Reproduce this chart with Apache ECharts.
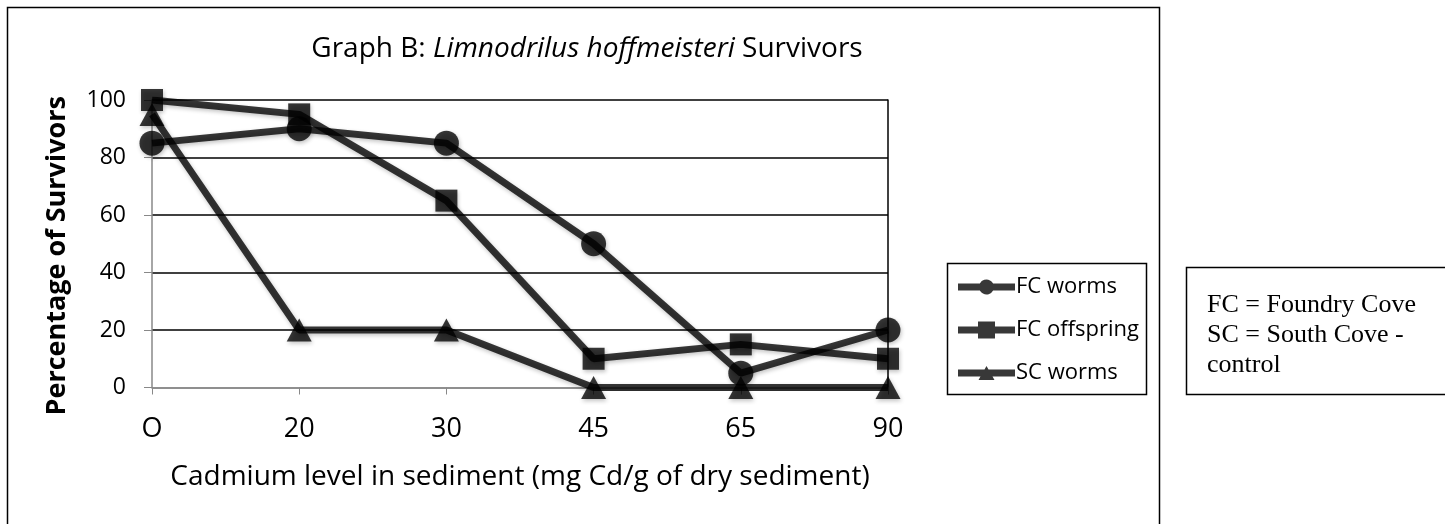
<!DOCTYPE html>
<html>
<head>
<meta charset="utf-8">
<script src="https://cdn.jsdelivr.net/npm/echarts@6/dist/echarts.min.js"></script>
<style>
html,body{margin:0;padding:0;background:#fff;}
#chart{width:1445px;height:524px;}
</style>
</head>
<body>
<div id="chart"></div>
<script>
const categories = ['O', '20', '30', '45', '65', '90'];
const fcWorms = [85, 90, 85, 50, 5, 20];
const fcOffspring = [100, 95, 65, 10, 15, 10];
const scWorms = [95, 20, 20, 0, 0, 0];
const seriesNames = ['FC worms', 'FC offspring', 'SC worms'];
const yTicks = { min: 0, max: 100, step: 20 };
const noteLines = ['FC = Foundry Cove', 'SC = South Cove -', 'control'];

const sansFont = 'Open Sans';
const lineColor = 'rgba(0,0,0,0.78)';

const legendIcons = [
  'path://M0,7.5 L21.87,7.5 A7.5,7.5 0 0 1 35.13,7.5 L57,7.5 L57,14.5 L35.13,14.5 A7.5,7.5 0 0 1 21.87,14.5 L0,14.5 Z',
  'path://M0,7.5 H20 V2.5 H37 V7.5 H57 V14.5 H37 V19.5 H20 V14.5 H0 Z',
  'path://M0,7.5 H26.5 L28.5,4 L30.5,7.5 H57 V14.5 H34.5 L36.5,18 H20.5 L22.5,14.5 H0 Z'
];

function mkSeries(name, data, symbol, size) {
  return {
    name: name,
    type: 'line',
    data: data,
    symbol: symbol,
    symbolSize: size,
    lineStyle: { color: lineColor, width: 7, shadowColor: 'rgba(0,0,0,0.3)', shadowBlur: 4, shadowOffsetX: 1, shadowOffsetY: 2 },
    itemStyle: { color: lineColor, shadowColor: 'rgba(0,0,0,0.3)', shadowBlur: 4, shadowOffsetX: 1, shadowOffsetY: 2 },
    emphasis: { disabled: true },
    animation: false
  };
}

const chart = echarts.init(document.getElementById('chart'));
chart.setOption({
  backgroundColor: '#fff',
  animation: false,
  title: {
    text: '{n|Graph B: }{i|Limnodrilus hoffmeisteri}{n| Survivors}',
    left: 582, top: 30, textAlign: 'center',
    textStyle: {
      fontWeight: 'normal',
      rich: {
        n: { fontFamily: sansFont, fontSize: 28, fontWeight: 'normal', color: '#000' },
        i: { fontFamily: sansFont, fontSize: 28, fontWeight: 'normal', fontStyle: 'italic', color: '#000' }
      }
    }
  },
  grid: { left: 152, right: 557, top: 100, bottom: 136.5 },
  legend: {
    orient: 'vertical',
    left: 953, top: 271,
    itemWidth: 57, itemHeight: 22, itemGap: 21,
    symbolKeepAspect: true,
    textStyle: { fontFamily: sansFont, fontSize: 22, color: '#000', padding: [0,0,0,-4] },
    data: seriesNames.map((n, i) => ({ name: n, icon: legendIcons[i] }))
  },
  xAxis: {
    type: 'category',
    data: categories,
    boundaryGap: false,
    axisLine: { lineStyle: { color: '#888', width: 1.5 } },
    axisTick: { show: true, length: 7, lineStyle: { color: '#888' } },
    axisLabel: { fontFamily: sansFont, fontSize: 27, color: '#000', margin: 28 },
    name: 'Cadmium level in sediment (mg Cd/g of dry sediment)',
    nameLocation: 'middle',
    nameGap: 76,
    nameTextStyle: { fontFamily: sansFont, fontSize: 28, color: '#000' }
  },
  yAxis: [{
    type: 'value',
    min: yTicks.min, max: yTicks.max, interval: yTicks.step,
    axisLine: { show: true, lineStyle: { color: '#888', width: 1.5 } },
    axisTick: { show: true, length: 8, lineStyle: { color: '#888' } },
    splitLine: { show: true, lineStyle: { color: ['#888', '#000', '#000', '#000', '#000', '#000'], width: 1.5 } },
    axisLabel: { fontFamily: sansFont, fontSize: 23, color: '#000', margin: 26 },
    name: 'Percentage of Survivors',
    nameLocation: 'middle',
    nameGap: 81,
    nameTextStyle: { fontFamily: sansFont, fontSize: 27, fontWeight: 'bold', color: '#000', padding: [0, 24, 0, 0] }
  }, {
    type: 'value',
    position: 'right',
    min: yTicks.min, max: yTicks.max, interval: yTicks.step,
    axisLine: { show: true, lineStyle: { color: '#000', width: 1.5 } },
    axisTick: { show: false },
    axisLabel: { show: false },
    splitLine: { show: false }
  }],
  series: [
    mkSeries(seriesNames[0], fcWorms, 'circle', 25),
    mkSeries(seriesNames[1], fcOffspring, 'rect', 22),
    mkSeries(seriesNames[2], scWorms, 'triangle', [25, 23])
  ],
  graphic: [
    { type: 'rect', shape: { x: 7.5, y: 7.5, width: 1152, height: 600 }, style: { fill: null, stroke: '#000', lineWidth: 1.5 }, silent: true },
    { type: 'rect', shape: { x: 947.5, y: 263.5, width: 199, height: 131 }, style: { fill: null, stroke: '#000', lineWidth: 1.5 }, silent: true },
    { type: 'rect', shape: { x: 1186.5, y: 267.5, width: 300, height: 127 }, style: { fill: '#fff', stroke: '#000', lineWidth: 1.5 }, silent: true },
    { type: 'text', left: 1207, top: 290, style: { text: noteLines.join('\n'), font: '26px "Liberation Serif"', fill: '#000', lineHeight: 30 }, silent: true }
  ]
});
</script>
</body>
</html>
